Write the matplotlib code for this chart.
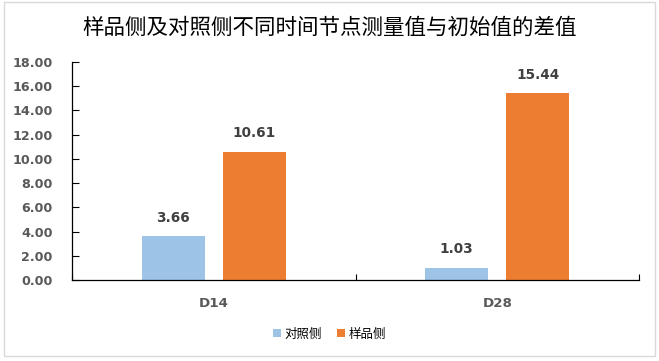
import matplotlib
matplotlib.use("Agg")
import matplotlib.pyplot as plt
from matplotlib.patches import Rectangle
import numpy as np

plt.rcParams['font.family'] = ['Noto Sans CJK SC', 'DejaVu Sans']

title = "样品侧及对照侧不同时间节点测量值与初始值的差值"
categories = ["D14", "D28"]
series_names = ["对照侧", "样品侧"]
control_vals = [3.66, 1.03]
sample_vals = [10.61, 15.44]
yticks = [0, 2, 4, 6, 8, 10, 12, 14, 16, 18]

colors = ["#9DC3E6", "#ED7D31"]

W, H = 659, 361
fig = plt.figure(figsize=(W/100, H/100), dpi=100)
fig.patches.append(Rectangle((4/W, 1 - 356/H), 651/W, 354/H, transform=fig.transFigure,
                             fill=False, edgecolor="#D9D9D9", linewidth=1.0))
ax = fig.add_axes([72/W, 1 - 280/H, 567/W, 218/H])

x = np.arange(len(categories))
w = 0.222
off = 0.143
b1 = ax.bar(x - off, control_vals, w, color=colors[0], label=series_names[0])
b2 = ax.bar(x + off, sample_vals, w, color=colors[1], label=series_names[1])

for bars, vals in ((b1, control_vals), (b2, sample_vals)):
    for r, v in zip(bars, vals):
        ax.annotate(f"{v:.2f}", (r.get_x() + r.get_width()/2, v), xytext=(0, 8),
                    textcoords="offset points", ha="center", va="bottom",
                    fontsize=9.8, fontweight="bold", color="#404040",
                    family=['DejaVu Sans'])

ax.set_xlim(-0.5, 1.5)
ax.set_ylim(0, 18)
ax.set_yticks(yticks)
ax.set_yticklabels([f"{v:.2f}" for v in yticks], fontsize=9.2, fontweight="bold",
                   color="#595959", family=['DejaVu Sans'])
ax.set_xticks(x)
ax.set_xticklabels(categories, fontsize=9.6, fontweight="bold", color="#595959",
                   family=['DejaVu Sans'])
ax.set_xticks([-0.5, 0.5, 1.5], minor=True)
ax.tick_params(axis='x', which='major', length=0, pad=12)
ax.tick_params(axis='x', which='minor', direction='in', length=4.5, width=0.8, color='black')
ax.tick_params(axis='y', direction='in', length=5, width=0.8, color='black', pad=14)

for s in ("top", "right"):
    ax.spines[s].set_visible(False)
for s in ("left", "bottom"):
    ax.spines[s].set_color("black")
    ax.spines[s].set_linewidth(0.9)

fig.text(0.5, 1 - 28/H, title, ha="center", va="center", fontsize=15.5, color="black",
         fontweight="medium")

fig.legend(handles=[b1, b2], labels=series_names, loc="center", bbox_to_anchor=(0.5, 1 - 334/H),
           ncol=2, frameon=False, fontsize=9, handlelength=0.6, handleheight=0.6,
           handletextpad=0.3, columnspacing=1.2)

fig.savefig("out.png", dpi=100)
